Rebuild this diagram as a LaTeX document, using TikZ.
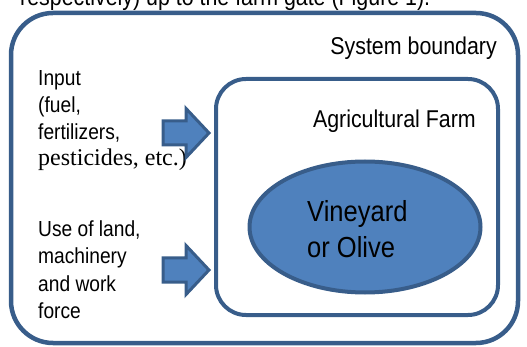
\documentclass[tikz,border=0pt]{standalone}
\usepackage{fontspec}
\setmainfont{Liberation Sans}[FakeStretch=0.88]
\newfontfamily\timesfont{Liberation Serif}
\usepackage{xcolor}
\definecolor{BLUEfill}{HTML}{4F81BD}
\definecolor{BLUEline}{HTML}{385D8A}
\usepackage{tikz}
\usetikzlibrary{shapes.geometric}

\begin{document}
\begin{tikzpicture}[x=1pt, y=-1pt]
    \tikzset{%
        boxline/.style={draw=BLUEline, rounded corners=#1, inner sep=0pt},
        labeltext/.style={inner sep=0pt, font=\fontsize{24.3}{28}\selectfont},
        inputtext/.style={inner sep=0pt, anchor=base west, font=\fontsize{21.8}{27}\selectfont},
        pics/feedarrow/.style={code={%
                        % shaft and head, tip at (0, 0)
                        \draw [BLUEline, fill=BLUEfill, line width=3pt, line join=miter]
                        (-46, -12) -- (-23, -12) -- (-23, -24.5) -- (0, 0)
                        -- (-23, 24.5) -- (-23, 12) -- (-46, 12) -- cycle;
                    }
            }
    }
    \useasboundingbox (0, 0) rectangle (527, 347);

    % running text of the page, cut by the frame
    \node [labeltext, anchor=base west] (pagetext) at (20, 6) {respectively) up to the farm gate (Figure 1).};

    % boxes
    \node [boxline=42pt, line width=4.5pt, minimum width=507pt, minimum height=330pt] (sysbox) at (264.5, 178) {};
    \node [boxline=30pt, line width=4pt, minimum width=282pt, minimum height=236pt] (farmbox) at (357, 197) {};
    \node [ellipse, draw=BLUEline, fill=BLUEfill, line width=4pt, inner sep=0pt,
        minimum width=231pt, minimum height=131pt] (crop) at (365, 227) {};

    \node [labeltext, anchor=base east] (syslabel) at (497, 55) {System boundary};
    \node [labeltext, anchor=base east] (farmlabel) at (476, 128) {Agricultural Farm};
    \node [inputtext, font=\fontsize{29}{36}\selectfont] (crop1) at (307, 222) {Vineyard};
    \node [inputtext, font=\fontsize{29}{36}\selectfont] (crop2) at (307, 258) {or Olive};

    % input lines
    \foreach \line [count=\i from 0] in {Input, {(fuel,}, {fertilizers,}} {%
            \node [inputtext] (input\i) at (38, {86+26.7*\i}) {\line};
        };
    \node [inputtext, font=\timesfont\fontsize{24}{27}\selectfont] (input3) at (38, 166) {pesticides, etc.)};

    \foreach \line [count=\i from 0] in {{Use of land,}, machinery, and work, force} {%
            \node [inputtext] (use\i) at (38, {237+27*\i}) {\line};
        };

    % arrows into the farm
    \coordinate (inputtip) at (209, 133);
    \coordinate (usetip) at (209, 270);
    \pic at (inputtip) {feedarrow};
    \pic at (usetip) {feedarrow};

\end{tikzpicture}
\end{document}
